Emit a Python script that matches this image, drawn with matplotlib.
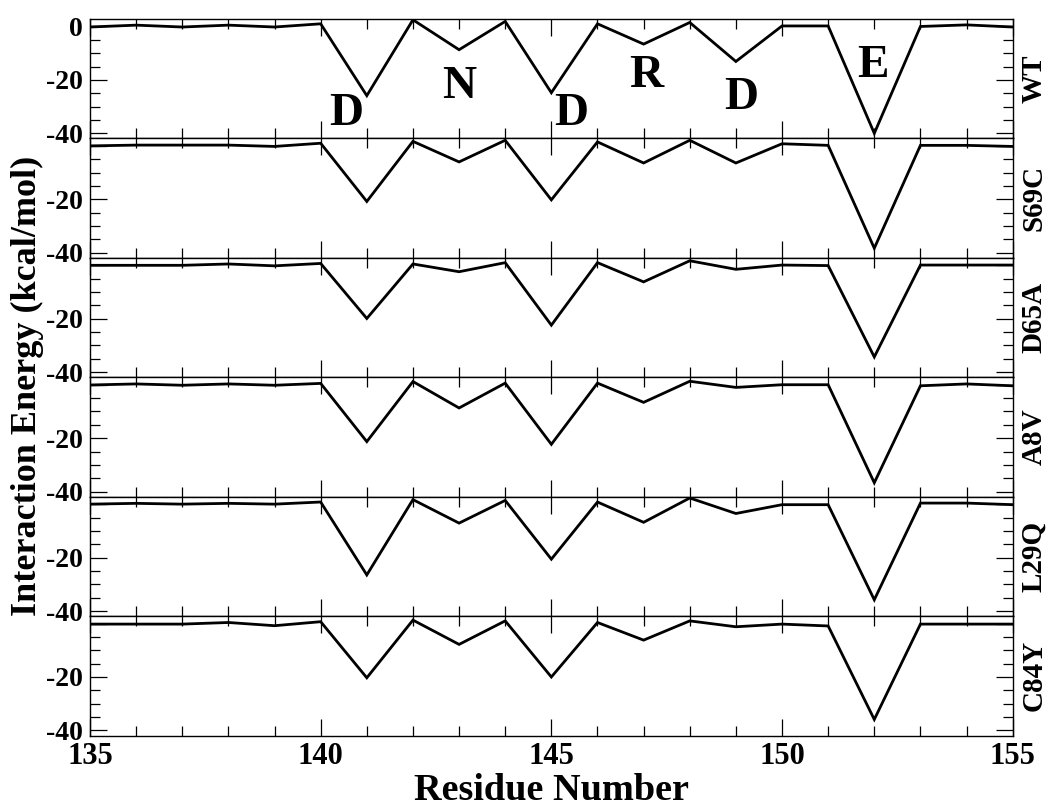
import matplotlib
matplotlib.use("Agg")
import matplotlib.pyplot as plt
from matplotlib.ticker import MultipleLocator

plt.rcParams["font.family"] = ["Liberation Serif", "DejaVu Serif"]
plt.rcParams["font.weight"] = "bold"

residues = list(range(135, 156))

variant_names = ["WT", "S69C", "D65A", "A8V", "L29Q", "C84Y"]

wt = [-0.2, 0.5, -0.2, 0.5, -0.2, 1.0, -25.9, 2.5, -8.7, 1.9, -24.8, 1.0,
      -6.6, 1.5, -13.1, 0.2, 0.2, -40.0, 0.0, 0.6, -0.2]
s69c = [0.0, 0.3, 0.3, 0.3, -0.2, 1.0, -20.8, 1.7, -6.0, 2.1, -20.2, 1.5,
        -6.4, 2.1, -6.4, 0.8, 0.2, -38.3, 0.2, 0.2, -0.2]
d65a = [0.0, 0.0, 0.0, 0.5, -0.2, 0.7, -19.9, 0.5, -2.4, 1.0, -22.4, 1.0,
        -6.2, 1.7, -1.5, 0.1, -0.1, -34.3, 0.1, 0.1, 0.1]
a8v = [-0.1, 0.3, -0.2, 0.3, -0.2, 0.5, -21.3, 1.2, -8.7, 0.6, -22.3, 0.6,
       -6.6, 1.3, -1.0, 0.0, 0.0, -36.7, -0.4, 0.3, -0.4]
l29q = [0.0, 0.3, 0.0, 0.3, 0.0, 0.8, -26.5, 1.7, -7.1, 1.4, -20.6, 0.8,
        -6.8, 2.3, -3.5, -0.2, -0.2, -35.8, 0.4, 0.4, -0.2]
c84y = [-0.2, -0.2, -0.2, 0.4, -0.8, 0.7, -20.3, 1.3, -7.8, 1.0, -20.0, 0.4,
        -6.2, 1.0, -1.2, -0.2, -0.9, -35.9, -0.2, -0.2, -0.2]

series = [wt, s69c, d65a, a8v, l29q, c84y]

# one-letter residue labels drawn inside the WT panel
motif_letters = ["D", "N", "D", "R", "D", "E"]
motif_x = [140.55, 143.0, 145.43, 147.05, 149.11, 151.97]
motif_y = [-36.9, -26.8, -36.9, -22.6, -30.9, -18.9]

x_ticks = [135, 140, 145, 150, 155]
y_ticks = [0, -20, -40]

fig = plt.figure(figsize=(10.5, 8.08), dpi=100)
left, right = 90 / 1050, 1012.7 / 1050
top, bottom = 1 - 19 / 808, 1 - 735.5 / 808
panel_h = (top - bottom) / len(series)

axes = []
for i, (name, vals) in enumerate(zip(variant_names, series)):
    y0 = top - (i + 1) * panel_h
    ax = fig.add_axes([left, y0, right - left, panel_h])
    axes.append(ax)
    ax.plot(residues, vals, color="black", lw=2.0, solid_joinstyle="miter")
    ax.set_xlim(135, 155)
    ax.set_ylim(-41.9, 2.8)
    ax.set_xticks(x_ticks)
    ax.xaxis.set_minor_locator(MultipleLocator(1))
    ax.set_yticks(y_ticks)
    ax.yaxis.set_minor_locator(MultipleLocator(5))
    ax.tick_params(which="both", direction="in", top=True, right=True,
                   width=0.9, color="black")
    ax.tick_params(which="major", length=12)
    ax.tick_params(which="minor", length=7)
    ax.tick_params(axis="y", labelsize=20, pad=5)
    ax.tick_params(axis="x", labelsize=22, pad=5)
    for sp in ax.spines.values():
        sp.set_linewidth(1.0)
    if i == 0:
        ax.set_yticklabels([str(t) for t in y_ticks])
    else:
        ax.set_yticklabels([""] + [str(t) for t in y_ticks[1:]])
    if i < len(series) - 1:
        ax.set_xticklabels([])
    else:
        ax.set_xticklabels([str(t) for t in x_ticks])
    for lab in ax.get_xticklabels() + ax.get_yticklabels():
        lab.set_fontweight("bold")
    fig.text(1034 / 1050, y0 + panel_h / 2, name, rotation=90,
             ha="center", va="center", fontsize=21, fontweight="bold")

for letter, lx, ly in zip(motif_letters, motif_x, motif_y):
    axes[0].text(lx, ly, letter, ha="center", va="baseline",
                 fontsize=34, fontweight="bold")

fig.text(552 / 1050, 1 - 799.5 / 808, "Residue Number", ha="center",
         va="baseline", fontsize=27.5, fontweight="bold")
fig.text(27 / 1050, 1 - 386 / 808, "Interaction Energy (kcal/mol)",
         rotation=90, ha="center", va="center", fontsize=26,
         fontweight="bold")

fig.savefig("out.png", dpi=100)
